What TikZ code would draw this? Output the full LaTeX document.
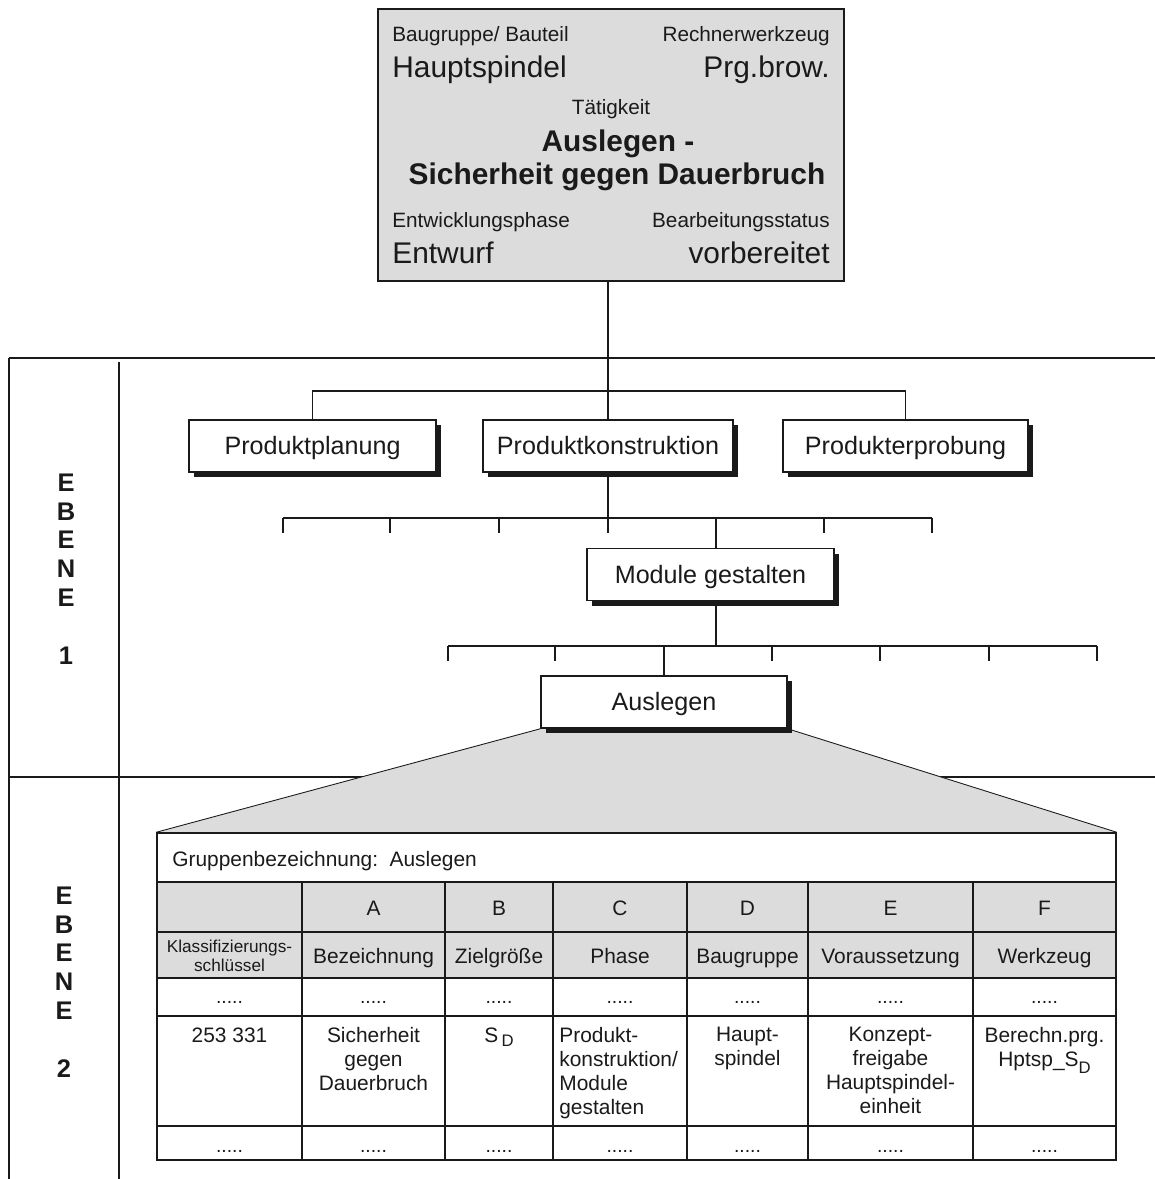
\documentclass[tikz,border=0pt]{standalone}
\usepackage{fontspec}
\setmainfont{Liberation Sans}
\usetikzlibrary{positioning,shadows,backgrounds}
\definecolor{ink}{HTML}{1A1A1A}
\definecolor{panel}{HTML}{DCDCDC}
\tikzset{
  infobox/.style={draw=ink,fill=panel,line width=0.9pt,minimum width=9.32cm,
                  minimum height=5.44cm,inner sep=0pt},
  lbl/.style={font=\fontsize{11.8}{14}\selectfont,text=ink,inner sep=0pt},
  val/.style={font=\fontsize{17}{20}\selectfont,text=ink,inner sep=0pt},
  actbox/.style={draw=ink,fill=white,line width=0.9pt,minimum width=4.94cm,
                 minimum height=1.04cm,inner sep=0pt,text=ink,
                 text height=10.2pt,text depth=0pt,
                 font=\fontsize{14.3}{17}\selectfont,
                 drop shadow={shadow xshift=0.1cm,shadow yshift=-0.1cm,
                              fill=ink,opacity=1}},
  link/.style={draw=ink,line width=0.85pt},
  frameline/.style={draw=ink,line width=0.9pt},
  gridline/.style={draw=ink,line width=0.8pt},
  levellbl/.style={font=\bfseries\fontsize{14.5}{16.4}\selectfont,
                   align=center,text=ink,inner sep=0pt},
  cell/.style={font=\fontsize{11.9}{13.6}\selectfont,text=ink,inner sep=0pt,
               align=center},
  dotcell/.style={font=\fontsize{11}{12}\selectfont,text=ink,inner sep=0pt}
}

\begin{document}
\begin{tikzpicture}[x=0.02cm,y=-0.02cm]
    \useasboundingbox (0,0) rectangle (1155,1179);

    % activity card on top
    \node[infobox] (info) at (611,145) {};
    \node[lbl,anchor=base west] (bgl) at (392,42) {Baugruppe/ Bauteil};
    \node[lbl,anchor=base east] (rwl) at (830,42) {Rechnerwerkzeug};
    \node[val,anchor=base west] (bgv) at (392,78) {Hauptspindel};
    \node[val,anchor=base east] (rwv) at (830,78) {Prg.brow.};
    \node[lbl,anchor=base] (tkl) at (611,115) {Tätigkeit};
    \node[val,font=\bfseries\fontsize{17}{20}\selectfont,anchor=base] (tk1)
      at (618,152) {Auslegen -};
    \node[val,font=\bfseries\fontsize{17}{20}\selectfont,anchor=base] (tk2)
      at (617,185) {Sicherheit gegen Dauerbruch};
    \node[lbl,anchor=base west] (epl) at (392,228) {Entwicklungsphase};
    \node[lbl,anchor=base east] (bsl) at (830,228) {Bearbeitungsstatus};
    \node[val,anchor=base west] (epv) at (392,263) {Entwurf};
    \node[val,anchor=base east] (bsv) at (830,263) {vorbereitet};

    % level 1 tree
    \node[actbox,minimum width=4.94cm] (plan) at (312.5,446) {Produktplanung};
    \node[actbox,minimum width=5.0cm] (kon) at (608,446) {Produktkonstruktion};
    \node[actbox,minimum width=4.9cm] (erp) at (905.5,446) {Produkterprobung};
    \node[actbox] (mod) at (710.5,574.5) {Module gestalten};
    \node[actbox,minimum width=4.92cm] (ausl) at (664,702) {Auslegen};

    \coordinate (fork1) at (608,391);
    \coordinate (fork2) at (608,518);
    \coordinate (tickmod) at (716,518);
    \coordinate (fork3) at (716,646);

    \draw[link] (info.south -| kon.north) -- (kon.north);
    \draw[link] (plan.north) |- (fork1) -| (erp.north);

    \draw[link] (kon.south) -- (fork2);
    \draw[link] (283,518) -- (932,518);
    \foreach \x in {283,390,499,608,824,932}
      \draw[link] (\x,518) -- (\x,533);
    \draw[link] (tickmod) -- (tickmod |- mod.north);

    \draw[link] (tickmod |- mod.south) -- (fork3);
    \draw[link] (448,646) -- (1097,646);
    \foreach \x in {448,555,772,880,989,1097}
      \draw[link] (\x,646) -- (\x,661);
    \draw[link] (ausl.north |- fork3) -- (ausl.north);

    % level labels
    \node[levellbl] (lev1) at (66,569) {E\\B\\E\\N\\E\\[16.4pt]1};
    \node[levellbl] (lev2) at (64,982) {E\\B\\E\\N\\E\\[16.4pt]2};

    % level 2 table
    \fill[panel] (157,882) rectangle (1116,978);
    \foreach \y in {882,932,978,1016,1126}
      \draw[gridline] (157,\y) -- (1116,\y);
    \foreach \x in {302,445,553,687,808,973}
      \draw[gridline] (\x,882) -- (\x,1160);
    \node[draw=ink,line width=0.9pt,minimum width=19.18cm,minimum height=6.54cm,
          inner sep=0pt] (tab) at (636.5,996.5) {};

    \node[cell,anchor=base west] (grp) at (172,866)
      {Gruppenbezeichnung:\ \ Auslegen};
    \foreach \x/\c/\n in {373.5/A/Bezeichnung,499/B/Zielgröße,620/C/Phase,
                          747.5/D/Baugruppe,890.5/E/Voraussetzung,1044.5/F/Werkzeug}{
      \node[cell,anchor=base] (key\c) at (\x,915) {\c};
      \node[cell,anchor=base] (head\c) at (\x,963) {\n};
    }
    \node[cell,font=\fontsize{9.8}{10.8}\selectfont] (headkey) at (229.5,956)
      {Klassifizierungs-\\schlüssel};
    \foreach \x [count=\i] in {229.5,373.5,499,620,747.5,890.5,1044.5}{
      \node[dotcell,anchor=base] (dotu\i) at (\x,1003) {.....};
      \node[dotcell,anchor=base] (dotl\i) at (\x,1152) {.....};
    }
    \node[cell,anchor=base] (valkey) at (229.5,1042) {253 331};
    \node[cell,anchor=north] (valA) at (373.5,1027) {Sicherheit\\gegen\\Dauerbruch};
    \node[cell,anchor=base] (valB) at (499,1042)
      {S\,\raisebox{-0.45ex}{\fontsize{9.5}{10}\selectfont D}};
    \node[cell,anchor=north west,align=left] (valC) at (559,1027)
      {Produkt-\\konstruktion/\\Module\\gestalten};
    \node[cell,anchor=north] (valD) at (747.5,1027) {Haupt-\\spindel};
    \node[cell,anchor=north] (valE) at (890.5,1027)
      {Konzept-\\freigabe\\Hauptspindel-\\einheit};
    \node[cell,anchor=north] (valF) at (1044.5,1027)
      {Berechn.prg.\\Hptsp\_S\raisebox{-0.6ex}{\fontsize{9.5}{10}\selectfont D}};

    % frame and zoom wedge behind everything
    \begin{scope}[on background layer]
      \draw[frameline] (9,358) -- (1155,358);
      \draw[frameline] (9,777) -- (1155,777);
      \draw[frameline] (9,358) -- (9,1179);
      \draw[frameline] (119,362) -- (119,1179);
      \fill[panel] (ausl.south west) -- (tab.north west)
        -- (tab.north east) -- (ausl.south east) -- cycle;
      \draw[ink,line width=0.5pt] (ausl.south west) -- (tab.north west);
      \draw[ink,line width=0.5pt] (ausl.south east) -- (tab.north east);
    \end{scope}
\end{tikzpicture}
\end{document}
